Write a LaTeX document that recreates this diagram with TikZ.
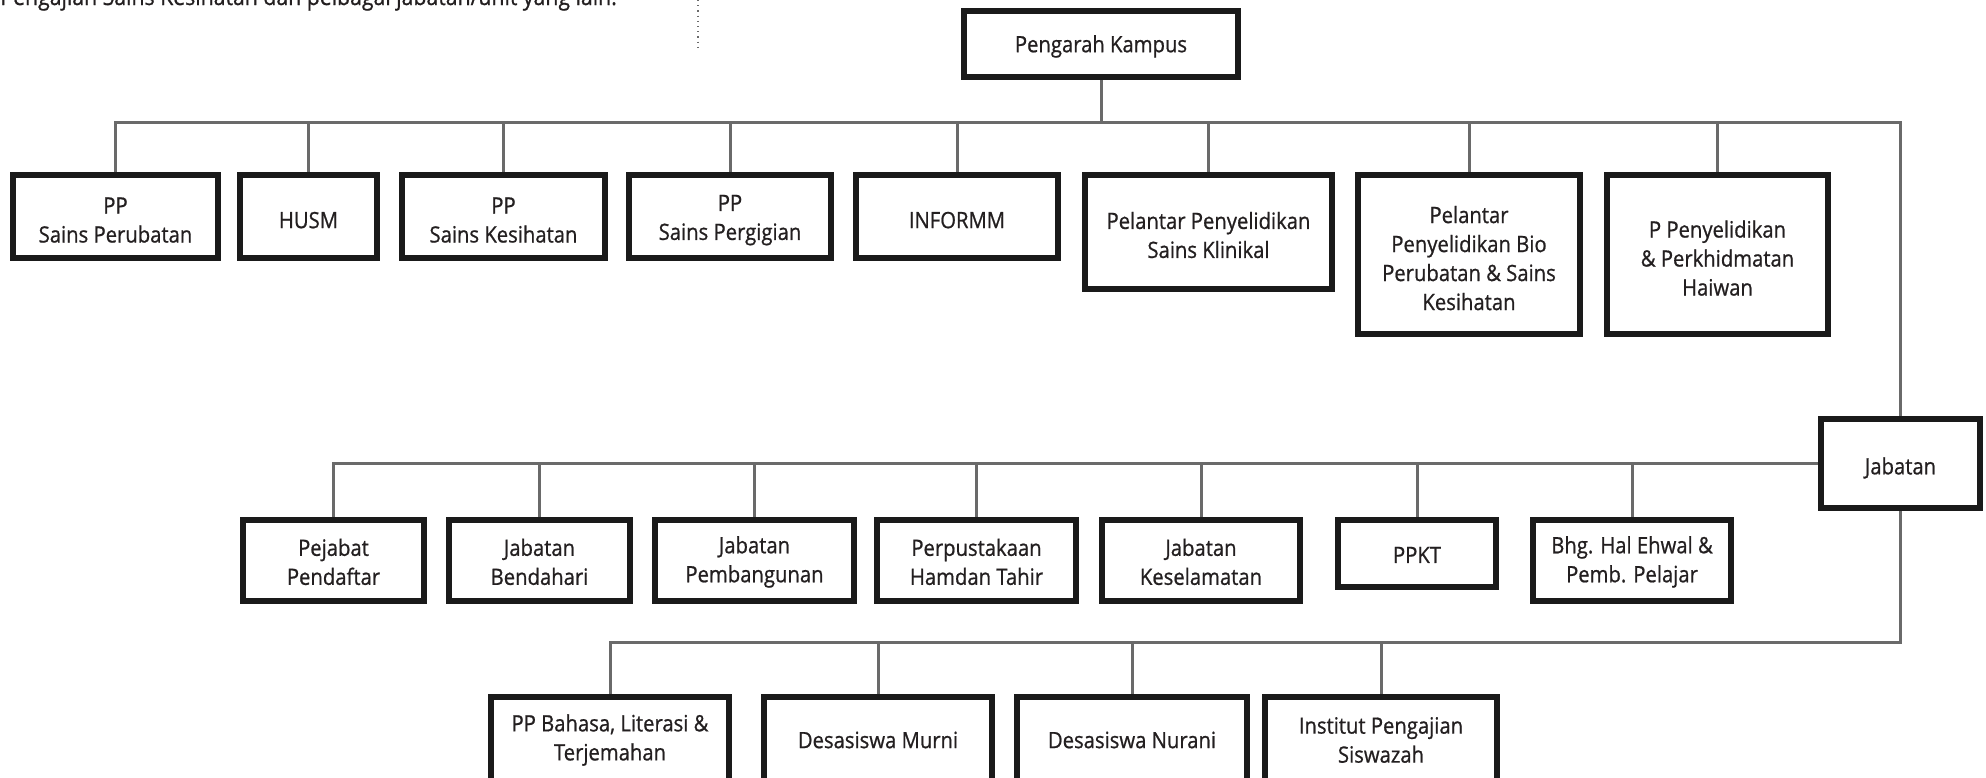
\documentclass[tikz,border=0pt]{standalone}
\usepackage{fontspec}
\setmainfont{Open Sans}[FakeStretch=0.9,FakeBold=0.8]
\usetikzlibrary{backgrounds}
\definecolor{boxblack}{HTML}{1A1A1A}
\definecolor{conngray}{HTML}{6A6A6A}
\definecolor{textcol}{HTML}{231F20}
\tikzset{
  orgbox/.style={draw=boxblack, line width=3pt, fill=white, inner sep=0pt},
  lbltxt/.style={inner sep=0pt, align=center, text=textcol,
    font=\fontsize{11.25pt}{14.5pt}\selectfont},
  conn/.style={draw=conngray, line width=1.5pt},
}
\begin{document}
\begin{tikzpicture}[x=0.5pt,y=-0.5pt]
\useasboundingbox (0,0) rectangle (1986,777);
\clip (0,0) rectangle (1986,777);

\node[anchor=base west, inner sep=0pt, text=textcol,
  font=\fontsize{11.8pt}{14pt}\selectfont] (intro) at (0,5)
  {Pengajian Sains Kesihatan dan pelbagai jabatan/unit yang lain.};
\coordinate (dtop) at (698,0);
\coordinate (dbot) at (698,51);
\draw[dotted, draw=conngray, line width=0.6pt] (dtop) -- (dbot);

% top
\node[orgbox, minimum width=137pt, minimum height=33pt,
  label={[lbltxt, yshift=-1.2pt]center:{Pengarah Kampus}}] (pk) at (1101,44) {};

% row 1
\node[orgbox, minimum width=102.5pt, minimum height=41.5pt,
  label={[lbltxt, yshift=-1.8pt]center:{PP\\Sains Perubatan}}] (ppsp) at (115.5,216.5) {};
\node[orgbox, minimum width=68.5pt, minimum height=41.5pt,
  label={[lbltxt, yshift=-1.8pt]center:{HUSM}}] (husm) at (308.5,216.5) {};
\node[orgbox, minimum width=101.5pt, minimum height=41.5pt,
  label={[lbltxt, yshift=-1.8pt]center:{PP\\Sains Kesihatan}}] (ppsk) at (503.5,216.5) {};
\node[orgbox, minimum width=101pt, minimum height=41.5pt,
  label={[lbltxt, yshift=-1.8pt]center:{PP\\Sains Pergigian}}] (ppsg) at (730,216.5) {};
\node[orgbox, minimum width=101pt, minimum height=41.5pt,
  label={[lbltxt, yshift=-1.8pt]center:{INFORMM}}] (inf) at (957,216.5) {};
\node[orgbox, minimum width=123.5pt, minimum height=57pt,
  label={[lbltxt, yshift=-1.5pt]center:{Pelantar Penyelidikan\\Sains Klinikal}}] (klin) at (1208.5,232) {};
\node[orgbox, minimum width=111pt, minimum height=79.5pt,
  label={[lbltxt, yshift=-1.8pt]center:{Pelantar\\Penyelidikan Bio\\Perubatan \& Sains\\Kesihatan}}] (bio) at (1469,254.5) {};
\node[orgbox, minimum width=110.5pt, minimum height=79.5pt,
  label={[lbltxt, yshift=-1.8pt]center:{P Penyelidikan\\\& Perkhidmatan\\Haiwan}}] (hai) at (1717.5,254.5) {};

% jabatan
\node[orgbox, minimum width=79.5pt, minimum height=44.5pt,
  label={[lbltxt, yshift=-2.2pt]center:{Jabatan}}] (jab) at (1900.5,463.5) {};

% row 2
\node[orgbox, minimum width=90.5pt, minimum height=40.5pt,
  label={[lbltxt, yshift=-0.7pt]center:{Pejabat\\Pendaftar}}] (pejp) at (333.5,560.5) {};
\node[orgbox, minimum width=90.5pt, minimum height=40.5pt,
  label={[lbltxt, yshift=-0.7pt]center:{Jabatan\\Bendahari}}] (bend) at (539.5,560.5) {};
\node[orgbox, minimum width=99.5pt, minimum height=40.5pt,
  label={[lbltxt, yshift=-0.7pt]center:{Jabatan\\Pembangunan}}] (pemb) at (754.5,560.5) {};
\node[orgbox, minimum width=99.5pt, minimum height=40.5pt,
  label={[lbltxt, yshift=-0.7pt]center:{Perpustakaan\\Hamdan Tahir}}] (perp) at (976.5,560.5) {};
\node[orgbox, minimum width=99pt, minimum height=40.5pt,
  label={[lbltxt, yshift=-0.7pt]center:{Jabatan\\Keselamatan}}] (kes) at (1201,560.5) {};
\node[orgbox, minimum width=79pt, minimum height=33.5pt,
  label={[lbltxt, yshift=-0.7pt]center:{PPKT}}] (ppkt) at (1417,553.5) {};
\node[orgbox, minimum width=99pt, minimum height=40.5pt,
  label={[lbltxt, yshift=-0.7pt]center:{Bhg. Hal Ehwal \&\\Pemb. Pelajar}}] (bhg) at (1632,560.5) {};

% row 3
\node[orgbox, minimum width=119pt, minimum height=43pt,
  label={[lbltxt]center:{PP Bahasa, Literasi \&\\Terjemahan}}] (bah) at (610,740) {};
\node[orgbox, minimum width=114pt, minimum height=43pt,
  label={[lbltxt]center:{Desasiswa Murni}}] (mur) at (878,740) {};
\node[orgbox, minimum width=115pt, minimum height=43pt,
  label={[lbltxt]center:{Desasiswa Nurani}}] (nur) at (1132,740) {};
\node[orgbox, minimum width=116pt, minimum height=43pt,
  label={[lbltxt]center:{Institut Pengajian\\Siswazah}}] (sis) at (1381,740) {};

\coordinate (tb) at (0,122);
\coordinate (lb) at (0,642);

\begin{pgfonlayer}{background}
\fill[white] (0,0) rectangle (1986,777);
\draw[conn] (pk.south) -- (pk.south |- tb);
\draw[conn] (ppsp.north) -- (ppsp.north |- tb) -- (jab.north |- tb) -- (jab.north);
\foreach \n in {husm,ppsk,ppsg,inf,klin,bio,hai}
  \draw[conn] (\n.north) -- (\n.north |- tb);
\draw[conn] (jab.west) -- (pejp.north |- jab.west) -- (pejp.north);
\foreach \n in {bend,pemb,perp,kes,ppkt,bhg}
  \draw[conn] (\n.north) -- (\n.north |- jab.west);
\draw[conn] (jab.south) -- (jab.south |- lb) -- (bah.north |- lb) -- (bah.north);
\foreach \n in {mur,nur,sis}
  \draw[conn] (\n.north) -- (\n.north |- lb);
\end{pgfonlayer}
\end{tikzpicture}
\end{document}
